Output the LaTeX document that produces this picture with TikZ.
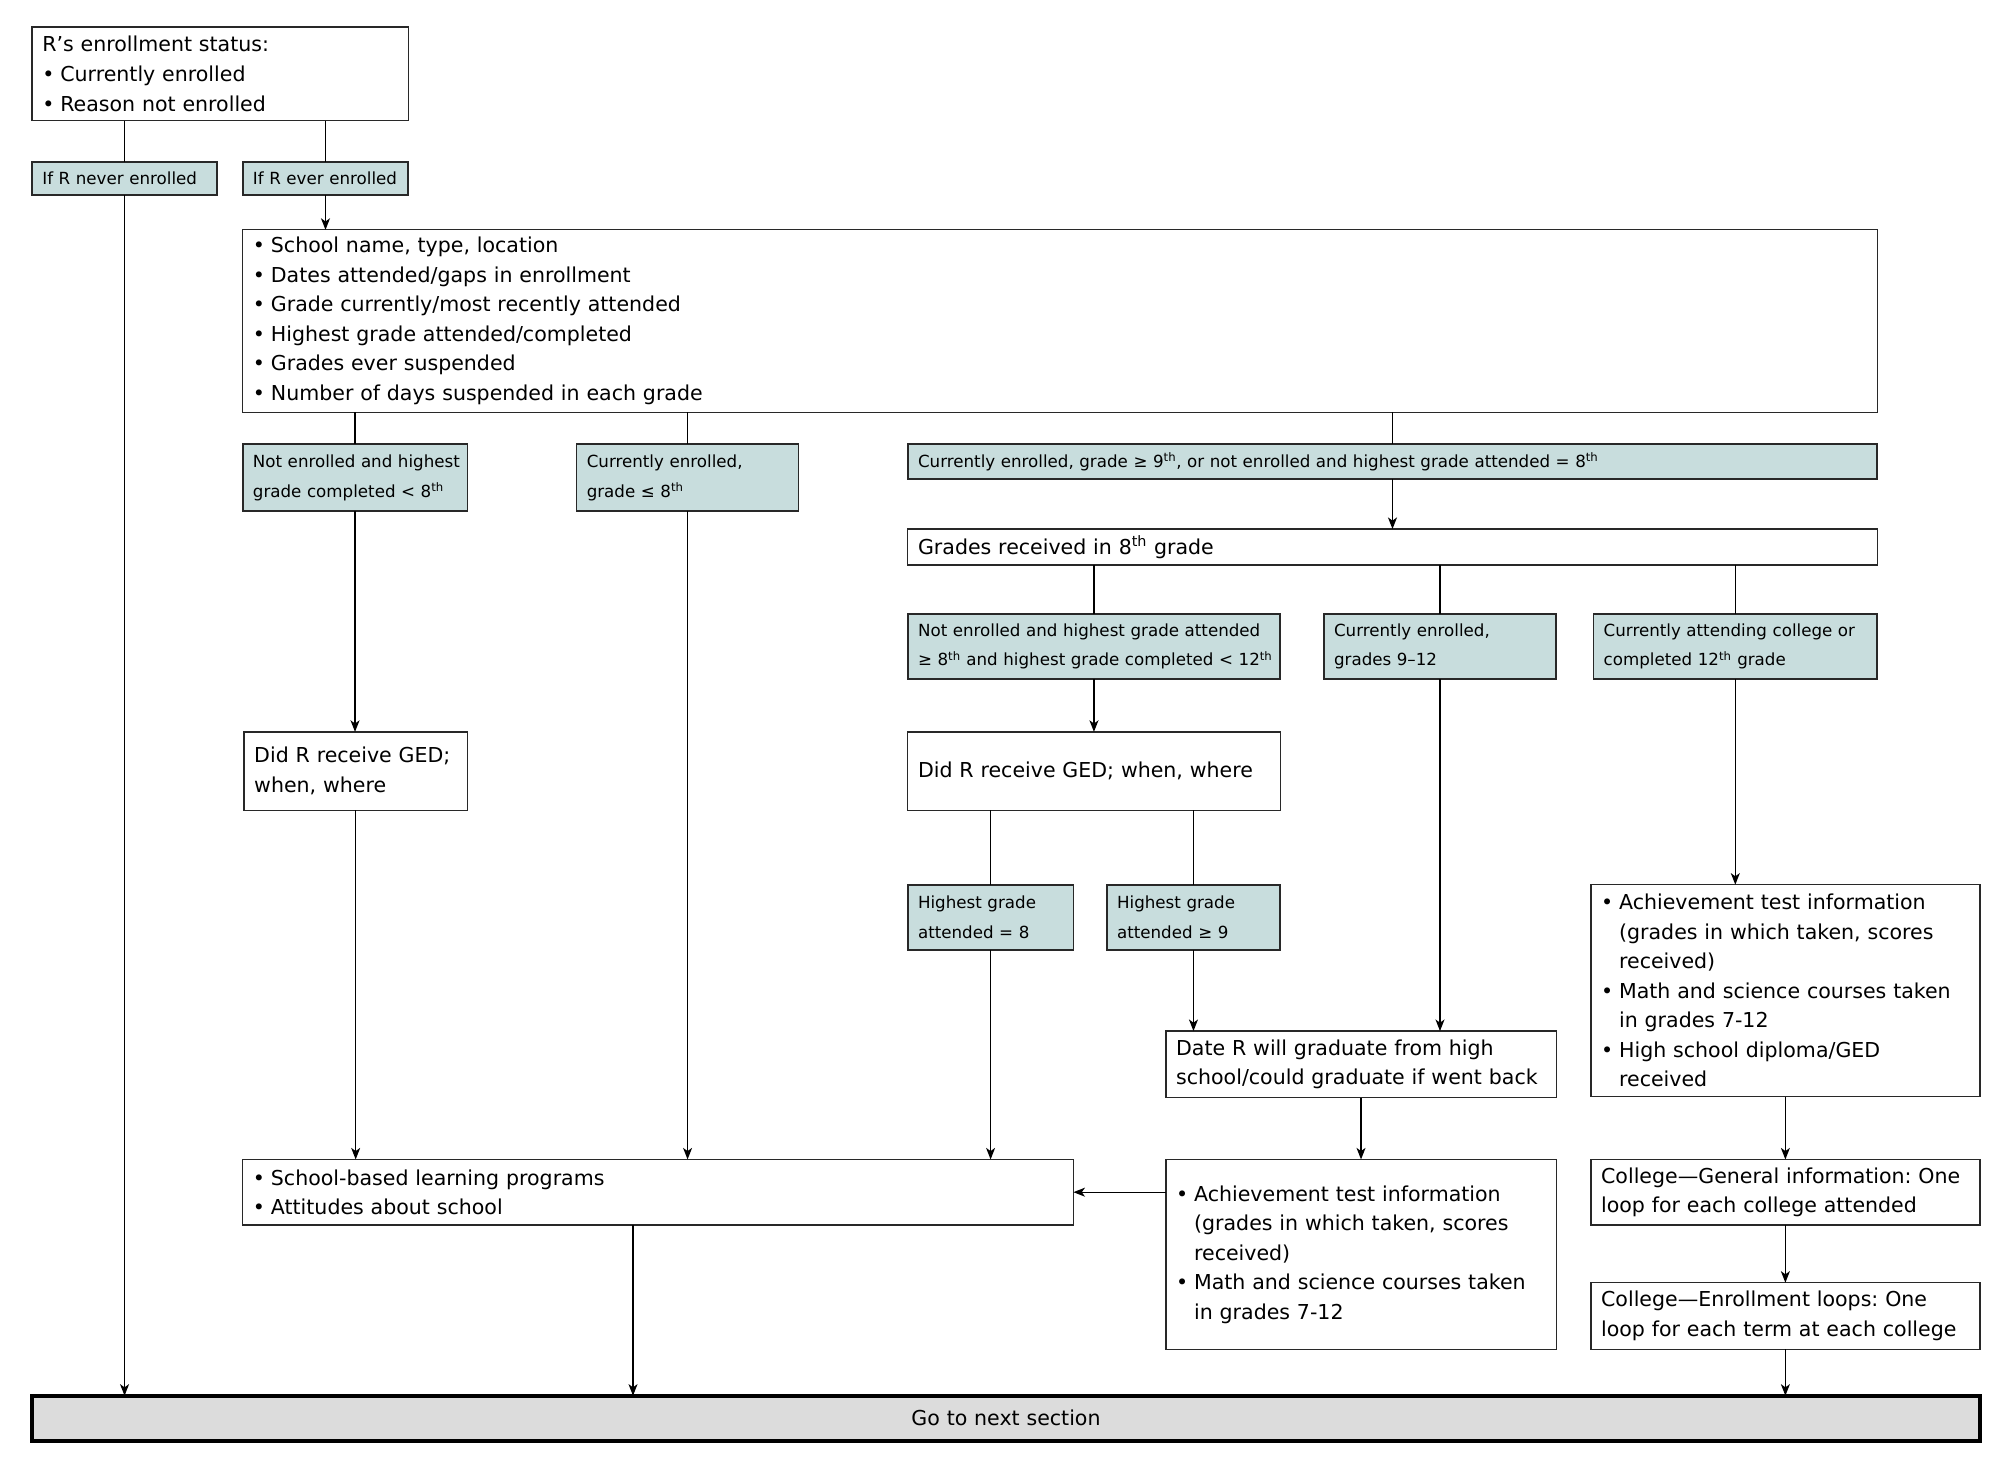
\documentclass[tikz,border=0pt]{standalone}
\usepackage{fontspec}
\setmainfont{DejaVu Sans}
\usetikzlibrary{arrows.meta}
\definecolor{tealbox}{RGB}{200,221,221}
\definecolor{graybox}{RGB}{220,220,220}
\definecolor{edge}{RGB}{40,40,40}
\newcommand\LL[1]{\mbox{#1}}
\newcommand\bl{\makebox[14pt][l]{•}}
\newcommand\ind{\hspace*{14pt}}
\newcommand\sth{\textsuperscript{th}}
\frenchspacing
\tikzset{
  box/.style={draw=edge, line width=1pt, fill=white, anchor=north west, align=left,
    inner xsep=8pt, inner ysep=0pt, outer sep=0pt, font=\fontsize{16}{23}\selectfont},
  cond/.style={box, fill=tealbox, line width=1.3pt, font=\fontsize{13}{23}\selectfont},
  endbox/.style={draw=black, line width=3pt, fill=graybox, anchor=north west, align=center,
    inner xsep=8pt, inner ysep=0pt, outer sep=0pt, font=\fontsize{16}{23}\selectfont},
  arr/.style={-{Stealth[length=9pt,width=7pt,inset=2.5pt]}, line width=1pt, draw=black},
  ln/.style={line width=1pt, draw=black}
}
\begin{document}
\begin{tikzpicture}[x=1pt,y=-1pt]
\useasboundingbox (0,0) rectangle (1567,1145);
\fill[white] (0,0) rectangle (1567,1145);

\node[box, text width=277pt, minimum height=73pt] (A) at (25,21)
  {\LL{R’s enrollment status:}\\\LL{\bl Currently enrolled}\\\LL{\bl Reason not enrolled}};
\node[cond, text width=128pt, minimum height=26pt] (nev) at (25,126) {\LL{If R never enrolled}};
\node[cond, text width=113pt, minimum height=26pt] (ev) at (189,126) {\LL{If R ever enrolled}};

\node[box, text width=1257pt, minimum height=142pt] (B) at (189,179)
  {\LL{\bl School name, type, location}\\
   \LL{\bl Dates attended/gaps in enrollment}\\
   \LL{\bl Grade currently/most recently attended}\\
   \LL{\bl Highest grade attended/completed}\\
   \LL{\bl Grades ever suspended}\\
   \LL{\bl Number of days suspended in each grade}};

\node[cond, text width=159pt, minimum height=52pt] (C1) at (189,346)
  {\LL{Not enrolled and highest}\\\LL{grade completed < 8\sth}};
\node[cond, text width=157pt, minimum height=52pt] (C2) at (449,346)
  {\LL{Currently enrolled,}\\\LL{grade ≤ 8\sth}};
\node[cond, text width=739pt, minimum height=27pt] (C3) at (707,346)
  {\LL{Currently enrolled, grade ≥ 9\sth, or not enrolled and highest grade attended = 8\sth}};

\node[box, text width=739pt, minimum height=28pt] (D) at (707,412)
  {\LL{Grades received in 8\sth\ grade}};

\node[cond, text width=274pt, minimum height=51pt] (E1) at (707,478)
  {\LL{Not enrolled and highest grade attended}\\\LL{≥ 8\sth\ and highest grade completed < 12\sth}};
\node[cond, text width=165pt, minimum height=51pt] (E2) at (1031,478)
  {\LL{Currently enrolled,}\\\LL{grades 9–12}};
\node[cond, text width=205pt, minimum height=51pt] (E3) at (1241,478)
  {\LL{Currently attending college or}\\\LL{completed 12\sth\ grade}};

\node[box, text width=274pt, minimum height=61pt] (F) at (707,570)
  {\LL{Did R receive GED; when, where}};
\node[box, text width=158pt, minimum height=61pt] (J) at (190,570)
  {\LL{Did R receive GED;}\\\LL{when, where}};

\node[cond, text width=113pt, minimum height=51pt] (G1) at (707,689)
  {\LL{Highest grade}\\\LL{attended = 8}};
\node[cond, text width=119pt, minimum height=51pt] (G2) at (862,689)
  {\LL{Highest grade}\\\LL{attended ≥ 9}};

\node[box, text width=287pt, minimum height=165pt] (I) at (1239,689)
  {\LL{\bl Achievement test information}\\
   \LL{\ind(grades in which taken, scores}\\
   \LL{\ind received)}\\
   \LL{\bl Math and science courses taken}\\
   \LL{\ind in grades 7-12}\\
   \LL{\bl High school diploma/GED}\\
   \LL{\ind received}};

\node[box, text width=288pt, minimum height=52pt] (H) at (908,803)
  {\LL{Date R will graduate from high}\\\LL{school/could graduate if went back}};

\node[box, text width=631pt, minimum height=51pt] (K) at (189,903)
  {\LL{\bl School-based learning programs}\\\LL{\bl Attitudes about school}};
\node[box, text width=288pt, minimum height=148pt] (L) at (908,903)
  {\LL{\bl Achievement test information}\\
   \LL{\ind(grades in which taken, scores}\\
   \LL{\ind received)}\\
   \LL{\bl Math and science courses taken}\\
   \LL{\ind in grades 7-12}};
\node[box, text width=287pt, minimum height=51pt] (M) at (1239,903)
  {\LL{College—General information: One}\\\LL{loop for each college attended}};
\node[box, text width=287pt, minimum height=52pt] (N) at (1239,999)
  {\LL{College—Enrollment loops: One}\\\LL{loop for each term at each college}};

\node[endbox, text width=1501pt, minimum height=35pt] (Z) at (25,1087) {Go to next section};

\coordinate (kz) at ([xshift=304pt]K.south west);

% connectors
\draw[ln] (A.south -| nev.north) -- (nev.north);
\draw[ln] (A.south -| ev.north) -- (ev.north);
\draw[arr] (nev.south) -- (nev.south |- Z.north);
\draw[arr] (ev.south) -- (ev.south |- B.north);
\draw[ln] (B.south -| C1.north) -- (C1.north);
\draw[ln] (B.south -| C2.north) -- (C2.north);
\draw[ln] (B.south -| C3.north) -- (C3.north);
\draw[arr] (C3.south) -- (C3.south |- D.north);
\draw[ln] (D.south -| E1.north) -- (E1.north);
\draw[ln] (D.south -| E2.north) -- (E2.north);
\draw[ln] (D.south -| E3.north) -- (E3.north);
\draw[arr] (E1.south) -- (E1.south |- F.north);
\draw[ln] (F.south -| G1.north) -- (G1.north);
\draw[ln] (F.south -| G2.north) -- (G2.north);
\draw[arr] (G2.south) -- (G2.south |- H.north);
\draw[arr] (E2.south) -- (E2.south |- H.north);
\draw[arr] (E3.south) -- (E3.south |- I.north);
\draw[arr] (C1.south) -- (C1.south |- J.north);
\draw[arr] (J.south) -- (J.south |- K.north);
\draw[arr] (C2.south) -- (C2.south |- K.north);
\draw[arr] (G1.south) -- (G1.south |- K.north);
\draw[arr] (H.south) -- (L.north);
\draw[arr] (L.west |- K.east) -- (K.east);
\draw[arr] (I.south) -- (M.north);
\draw[arr] (M.south) -- (N.north);
\draw[arr] (N.south) -- (N.south |- Z.north);
\draw[arr] (kz) -- (kz |- Z.north);
\end{tikzpicture}
\end{document}
